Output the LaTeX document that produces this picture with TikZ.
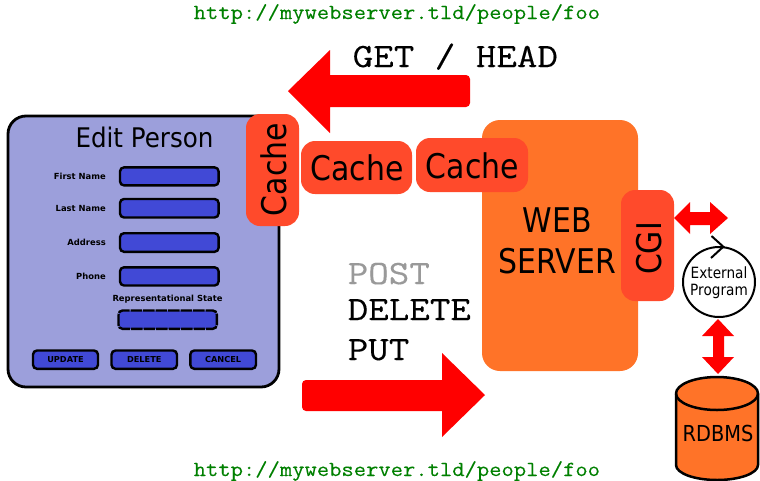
\documentclass[tikz,border=0pt]{standalone}
\usepackage{fontspec}
\setmainfont{DejaVu Sans}
\newfontfamily\monof[FakeBold=0.3]{Latin Modern Mono}
\newfontfamily\urlf[FakeBold=0.15]{Latin Modern Mono}
\newfontfamily\boldf{DejaVu Sans Bold}
\definecolor{panelc}{HTML}{9C9FDB}
\definecolor{fieldc}{HTML}{4149D6}
\definecolor{cachec}{HTML}{FF4A2B}
\definecolor{serverc}{HTML}{FF7328}
\definecolor{urlc}{HTML}{008000}
\definecolor{grayt}{HTML}{999999}
\newcommand{\fsz}[1]{\fontsize{#1}{#1}\selectfont}
\tikzset{
  x=1pt,y=-1pt,
  panelbox/.style={draw=black,line width=2.8pt,fill=panelc,rounded corners=18pt},
  fieldbox/.style={draw=black,line width=2.4pt,fill=fieldc,rounded corners=4pt},
  dashbox/.style={fieldbox,dash pattern=on 11.5pt off 1pt},
  cachebox/.style={fill=cachec,rounded corners=14pt},
  serverbox/.style={fill=serverc,rounded corners=18pt},
  bigarrow/.style={fill=red,draw=none},
  lab/.style={inner sep=0pt,font=\boldf\fsz{8.4}},
  btn/.style={inner sep=0pt,font=\boldf\fsz{8.2}},
  big/.style={inner sep=0pt,font=\fsz{34},xscale=.88},
  mono/.style={inner sep=0pt,anchor=base west,font=\monof\fsz{34},xscale=1.172},
  url/.style={inner sep=0pt,anchor=base west,text=urlc,font=\urlf\fsz{21.5},xscale=1.112},
}
\begin{document}
\begin{tikzpicture}
\useasboundingbox (0,0) rectangle (760,480);
\fill[white] (0,0) rectangle (760,480);
% client panel
\draw[panelbox] (8,116) rectangle (279,387);
\node[inner sep=0pt,font=\fsz{27},xscale=.91] (title) at (144.5,137) {Edit Person};
\foreach \n/\t/\b/\l in {f1/167.4/185.4/First Name,f2/199/217.5/Last Name,f3/233.2/251.8/Address,f4/267.3/285.5/Phone}{
  \draw[fieldbox] (120,\t) rectangle (218.6,\b);
  \node[lab,anchor=east] (\n) at (106,{(\t+\b)/2}) {\l};
}
\node[lab] (rep) at (167.5,299) {Representational State};
\draw[dashbox] (118.5,310.5) rectangle (216.8,328.8);
\foreach \n/\a/\c/\l in {b1/33/98/UPDATE,b2/111.5/177/DELETE,b3/190.3/256/CANCEL}{
  \draw[fieldbox] (\a,350.5) rectangle (\c,368.8);
  \node[btn] (\n) at ({(\a+\c)/2},359.5) {\l};
}
% server
\fill[serverbox] (482,120) rectangle (638,371);
\node[big] (web) at (557.5,220) {WEB};
\node[big] (srv) at (557.5,261.5) {SERVER};
% caches
\fill[cachebox] (246,114) rectangle (299,226);
\node[rotate=90,big] (c1) at (273.5,169.5) {Cache};
\fill[cachebox] (301,141) rectangle (412,194);
\node[big] (c2) at (357,168) {Cache};
\fill[cachebox] (416,138) rectangle (528,192);
\node[big] (c3) at (472.5,165.5) {Cache};
\fill[cachebox] (621,190) rectangle (674,301);
\node[rotate=90,big] (cgi) at (649,248.5) {CGI};
% block arrows
\fill[bigarrow] (288,91) -- (330,50) -- (330,75) -- (466,75) arc[start angle=90,end angle=0,radius=4pt] -- (470,103) arc[start angle=0,end angle=-90,radius=4pt] -- (330,107) -- (330,133) -- cycle;
\fill[bigarrow] (485,395) -- (442,353) -- (442,380) -- (306,380) arc[start angle=90,end angle=180,radius=4pt] -- (302,407) arc[start angle=180,end angle=270,radius=4pt] -- (442,411) -- (442,437) -- cycle;
\fill[bigarrow] (674,218) -- (690,202) -- (690,212) -- (710,212) -- (710,202) -- (728,218) -- (710,234) -- (710,225) -- (690,225) -- (690,234) -- cycle;
\fill[bigarrow] (718,319) -- (734,336) -- (724,336) -- (724,357) -- (734,357) -- (718,374) -- (702,357) -- (713,357) -- (713,336) -- (702,336) -- cycle;
% external program
\draw[line width=2pt,fill=white] (719,282) ellipse[x radius=36pt,y radius=35pt];
\draw[line width=2pt] (711.5,236) -- (723.3,246.7) -- (711,258);
\node[inner sep=0pt,font=\fsz{15.5},xscale=.88] (ext1) at (719,272.5) {External};
\node[inner sep=0pt,font=\fsz{15.5},xscale=.88] (ext2) at (719,291.5) {Program};
% database
\draw[line width=2.5pt,fill=serverc] (676,393.5) -- (676,465) arc[start angle=180,end angle=360,x radius=41pt,y radius=15pt] -- (758,393.5) arc[start angle=0,end angle=180,x radius=41pt,y radius=16.5pt] -- cycle;
\draw[line width=2.5pt] (676,393.5) arc[start angle=180,end angle=360,x radius=41pt,y radius=16.5pt];
\node[inner sep=0pt,font=\fsz{22},xscale=.88] (db) at (718,433) {RDBMS};
% texts
\node[url] (u1) at (193.5,19) {http://mywebserver.tld/people/foo};
\node[url] (u2) at (193.5,476) {http://mywebserver.tld/people/foo};
\node[mono] (get) at (352.5,67) {GET / HEAD};
\node[mono,text=grayt] (post) at (347.5,284) {POST};
\node[mono] (del) at (347.5,320) {DELETE};
\node[mono] (put) at (347.5,360) {PUT};
\end{tikzpicture}
\end{document}
